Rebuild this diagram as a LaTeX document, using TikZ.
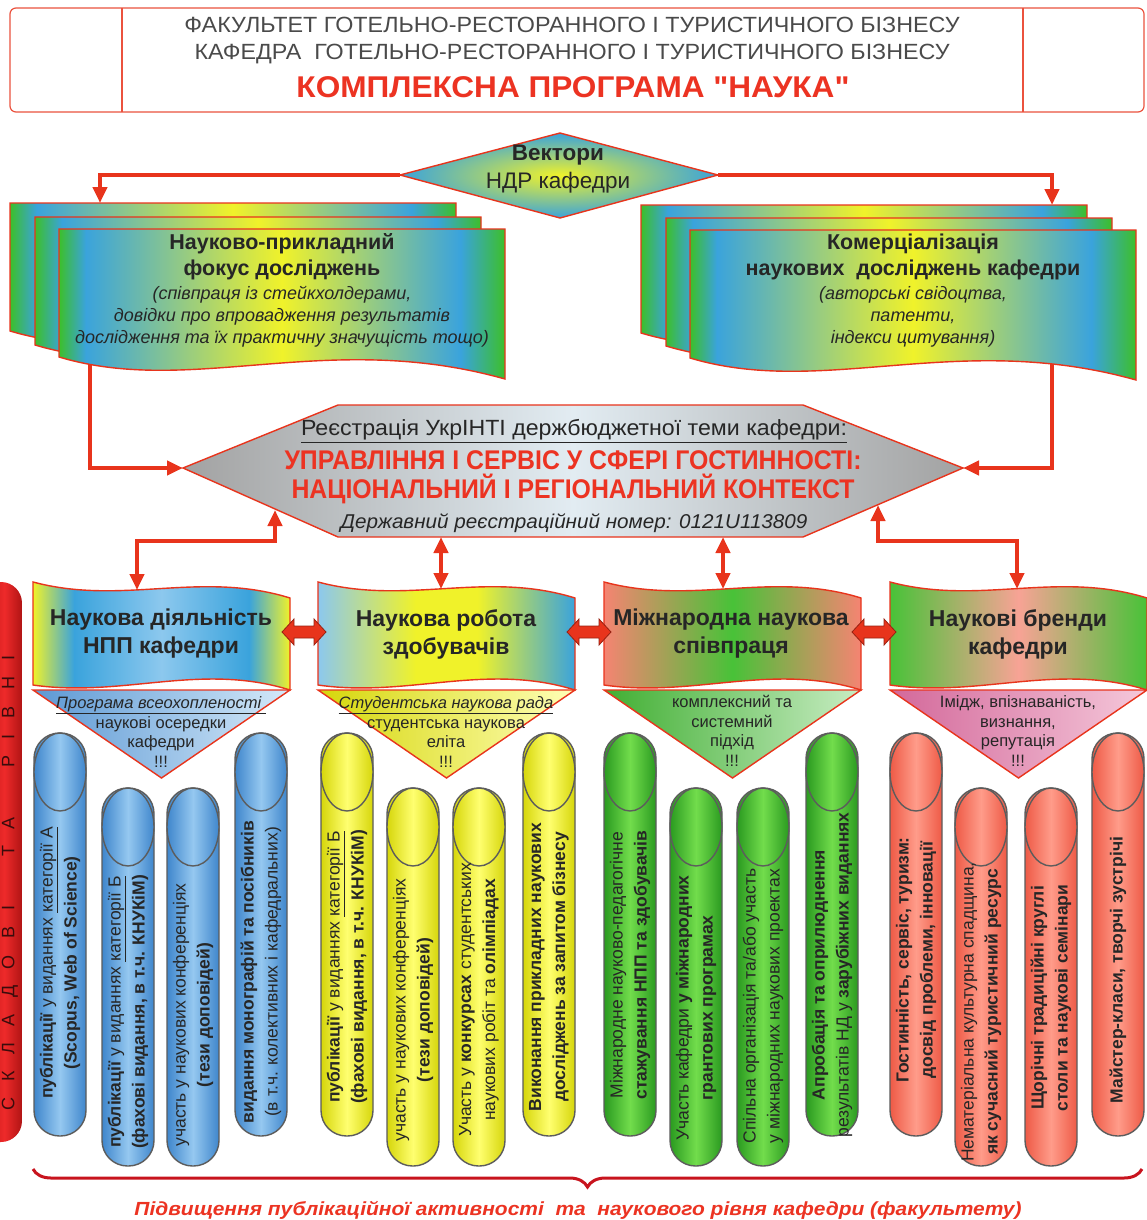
\documentclass[tikz,border=0pt]{standalone}
\usepackage{fontspec}
\setmainfont{Liberation Sans}
\usepackage{graphicx}
\usetikzlibrary{arrows.meta,decorations.pathreplacing}

\definecolor{ared}{HTML}{E8341C}
\definecolor{tred}{HTML}{EC3322}
\definecolor{bred}{HTML}{C8141E}
\definecolor{tgray}{HTML}{262626}
\definecolor{hgray}{HTML}{4A4A4A}
\definecolor{cgreen}{HTML}{3CBF2A}
\definecolor{cblue}{HTML}{3AA3DC}
\definecolor{cyellow}{HTML}{F0F22A}
\definecolor{lblue}{HTML}{8CC8EE}
\definecolor{csalmon}{HTML}{F58472}
\definecolor{cgreen2}{HTML}{48C238}
\definecolor{pout}{HTML}{5C5C5C}
\definecolor{hexc}{HTML}{E2ECF2}
\definecolor{hexg}{HTML}{A2A2A2}
\definecolor{pba}{HTML}{3F86CC}
\definecolor{pbb}{HTML}{95C8F0}
\definecolor{pya}{HTML}{D6D60A}
\definecolor{pyb}{HTML}{FFFF70}
\definecolor{pga}{HTML}{2A9A20}
\definecolor{pgb}{HTML}{72DD4C}
\definecolor{pra}{HTML}{EE5A46}
\definecolor{prb}{HTML}{FF9C8A}
\definecolor{bara}{HTML}{B01414}
\definecolor{barb}{HTML}{EE2A2A}
\definecolor{bartxt}{HTML}{3A0C0C}
\definecolor{pinka}{HTML}{D3689A}
\definecolor{pinkb}{HTML}{F5C8DA}

\pgfdeclarehorizontalshading{docsh}{100bp}{color(0bp)=(cgreen); color(25bp)=(cgreen); color(28bp)=(cblue); color(50bp)=(cyellow); color(70bp)=(cblue); color(75bp)=(cgreen); color(100bp)=(cgreen)}
\pgfdeclarehorizontalshading{bash}{100bp}{color(0bp)=(cyellow); color(25bp)=(cyellow); color(33bp)=(cblue); color(50bp)=(lblue); color(67bp)=(cblue); color(75bp)=(cyellow); color(100bp)=(cyellow)}
\pgfdeclarehorizontalshading{bbsh}{100bp}{color(0bp)=(lblue); color(25bp)=(lblue); color(44bp)=(cyellow); color(56bp)=(cyellow); color(75bp)=(cblue); color(100bp)=(cblue)}
\pgfdeclarehorizontalshading{bcsh}{100bp}{color(0bp)=(csalmon); color(25bp)=(csalmon); color(50bp)=(cgreen2); color(75bp)=(csalmon); color(100bp)=(csalmon)}
\pgfdeclarehorizontalshading{bdsh}{100bp}{color(0bp)=(cgreen2); color(25bp)=(cgreen2); color(50bp)=(csalmon!75!white); color(75bp)=(cgreen2); color(100bp)=(cgreen2)}
\pgfdeclarehorizontalshading{hexsh}{100bp}{color(0bp)=(hexg); color(25bp)=(hexg); color(50bp)=(hexc); color(75bp)=(hexg); color(100bp)=(hexg)}
\pgfdeclarehorizontalshading{pbsh}{100bp}{color(0bp)=(pba); color(25bp)=(pba); color(50bp)=(pbb); color(75bp)=(pba); color(100bp)=(pba)}
\pgfdeclarehorizontalshading{pysh}{100bp}{color(0bp)=(pya); color(25bp)=(pya); color(50bp)=(pyb); color(75bp)=(pya); color(100bp)=(pya)}
\pgfdeclarehorizontalshading{pgsh}{100bp}{color(0bp)=(pga); color(25bp)=(pga); color(50bp)=(pgb); color(75bp)=(pga); color(100bp)=(pga)}
\pgfdeclarehorizontalshading{prsh}{100bp}{color(0bp)=(pra); color(25bp)=(pra); color(50bp)=(prb); color(75bp)=(pra); color(100bp)=(pra)}
\pgfdeclarehorizontalshading{barsh}{100bp}{color(0bp)=(bara); color(25bp)=(bara); color(55bp)=(barb); color(75bp)=(bara); color(100bp)=(bara)}

\tikzset{
  shp/.style={draw=ared, line width=1.4pt},
  rarr/.style={draw=ared, line width=4pt, -{Triangle[width=14pt,length=16pt]}},
  rdarr/.style={draw=ared, line width=4pt, {Triangle[width=14pt,length=16pt]}-{Triangle[width=14pt,length=16pt]}},
  pil/.style={draw=pout, line width=1.4pt},
  ptext/.style={rotate=90, align=center, text=tgray, inner sep=0pt, font=\fontsize{17.5}{24}\selectfont},
  ttext/.style={align=center, text=tgray, inner sep=0pt, font=\fontsize{16.5}{19.7}\selectfont},
  btext/.style={align=center, text=tgray, inner sep=0pt, font=\bfseries\fontsize{23}{28}\selectfont},
  dtext/.style={align=center, text=tgray, inner sep=0pt, font=\bfseries\fontsize{21.5}{26}\selectfont},
  itext/.style={align=center, text=tgray, inner sep=0pt, font=\itshape\fontsize{18}{22}\selectfont},
}

\newcommand\drawpillar[7]{%
  \shadedraw[pil, shading=#4, rounded corners=25.5pt] (#1,#2) rectangle ({#1+52},#3);
  \shadedraw[pil, shading=#4] ({#1+26},{#2+39}) ellipse [x radius=26, y radius=39];
  \node[ptext] (#7) at ({#1+26},#5) {#6};
}
\newcommand\drawdoc[2]{%
  \shadedraw[shp, shading=docsh] (#1,#2) -- ({#1+446},#2) -- ({#1+446},{#2+150})
    .. controls ({#1+268},{#2+100}) and ({#1+134},{#2+168}) .. (#1,{#2+128}) -- cycle;
}
\newcommand\drawbanner[2]{%
  \shadedraw[shp, shading=#2] (#1,582) .. controls ({#1+90},606) and ({#1+167},570) .. ({#1+257},598)
    -- ({#1+257},690) .. controls ({#1+167},662) and ({#1+90},698) .. (#1,685) -- cycle;
}
\newcommand\drawtri[3]{%
  \shadedraw[shp, left color=#2, right color=#3] (#1,690) -- ({#1+257},690) -- ({#1+128.5},778) -- cycle;
}
\newcommand\drawdbl[2]{%
  \filldraw[fill=ared, draw=ared!65!black, line width=0.8pt]
    ({#1-22},#2) -- ({#1-10},{#2-13}) -- ({#1-10},{#2-6}) -- ({#1+10},{#2-6}) -- ({#1+10},{#2-13})
    -- ({#1+22},#2) -- ({#1+10},{#2+13}) -- ({#1+10},{#2+6}) -- ({#1-10},{#2+6}) -- ({#1-10},{#2+13}) -- cycle;
}

\begin{document}
\begin{tikzpicture}[x=1pt, y=-1pt]
\useasboundingbox (0,0) rectangle (1146,1220);
\fill[white] (0,0) rectangle (1146,1220);

% ---------------- header
\draw[draw=ared!85, line width=1.2pt, rounded corners=6pt] (10,8) rectangle (1144,112);
\draw[draw=ared!85, line width=1.2pt] (122,8) -- (122,112) (1023,8) -- (1023,112);
\node[text=hgray, font=\fontsize{22}{26}\selectfont, inner sep=0pt] (h1) at (572,25)
  {\resizebox{775pt}{\height}{ФАКУЛЬТЕТ ГОТЕЛЬНО-РЕСТОРАННОГО І ТУРИСТИЧНОГО БІЗНЕСУ}};
\node[text=hgray, font=\fontsize{22}{26}\selectfont, inner sep=0pt] (h2) at (572,54)
  {\resizebox{755pt}{\height}{КАФЕДРА\ \ ГОТЕЛЬНО-РЕСТОРАННОГО І ТУРИСТИЧНОГО БІЗНЕСУ}};
\node[text=tred, font=\bfseries\fontsize{30}{34}\selectfont, inner sep=0pt] (h3) at (573,87)
  {\resizebox{553pt}{\height}{КОМПЛЕКСНА ПРОГРАМА \textquotedbl НАУКА\textquotedbl}};

% ---------------- coordinates
\coordinate (vecL) at (400,175);
\coordinate (vecR) at (718,175);
\coordinate (vecT) at (560,133);
\coordinate (vecB) at (560,218);
\coordinate (docLin) at (100,203);
\coordinate (docRin) at (1052,205);
\coordinate (docLout) at (90,362);
\coordinate (docRout) at (1052,362);
\coordinate (hexL) at (183,468);
\coordinate (hexR) at (963,468);
\coordinate (hexTL) at (338,405);
\coordinate (hexTR) at (803,405);
\coordinate (hexBL) at (338,537);
\coordinate (hexBR) at (803,537);
\coordinate (hexB1) at (275,510);
\coordinate (hexB2) at (441,537);
\coordinate (hexB3) at (723,537);
\coordinate (hexB4) at (878,505);
\coordinate (ban1) at (137,590);
\coordinate (ban2) at (441,589);
\coordinate (ban3) at (723,589);
\coordinate (ban4) at (1017,589);

% ---------------- docs -> hexagon connectors (under docs)
\draw[rarr] (docLout) |- (hexL);
\draw[rarr] (docRout) |- (hexR);

% ---------------- document stacks
\drawdoc{10}{203}
\drawdoc{35}{217}
\drawdoc{59}{229}
\drawdoc{641}{205}
\drawdoc{666}{218}
\drawdoc{690}{230}

\node[dtext] (d1a) at (282,257) {Науково-прикладний\\фокус досліджень};
\node[itext] (d1b) at (282,317) {(співпраця із стейкхолдерами,\\довідки про впровадження результатів\\дослідження та їх практичну значущість тощо)};
\node[dtext] (d2a) at (913,257) {Комерціалізація\\наукових\ \ досліджень кафедри};
\node[itext] (d2b) at (913,317) {(авторські свідоцтва,\\патенти,\\індекси цитування)};

% ---------------- vectors
\shadedraw[shp, inner color=cyellow, outer color=cblue] (vecL) -- (vecT) -- (vecR) -- (vecB) -- cycle;
\node[text=tgray, font=\bfseries\fontsize{22.5}{24}\selectfont, inner sep=0pt] (v1) at (558,155) {Вектори};
\node[text=tgray, font=\fontsize{22.5}{24}\selectfont, inner sep=0pt] (v2) at (558,183) {НДР кафедри};
\draw[rarr] (vecL) -| (docLin);
\draw[rarr] (vecR) -| (docRin);

% ---------------- central hexagon
\shadedraw[shp, shading=hexsh] (hexL) -- (hexTL) -- (hexTR) -- (hexR) -- (hexBR) -- (hexBL) -- cycle;
\node[text=tgray, font=\fontsize{22}{26}\selectfont, inner sep=0pt] (hx1) at (574,431)
  {\resizebox{546pt}{\height}{\underline{Реєстрація УкрІНТІ держбюджетної теми кафедри:}}};
\node[text=tred, font=\bfseries\fontsize{27}{30}\selectfont, inner sep=0pt] (hx2) at (573,460)
  {\resizebox{577pt}{\height}{УПРАВЛІННЯ І СЕРВІС У СФЕРІ ГОСТИННОСТІ:}};
\node[text=tred, font=\bfseries\fontsize{27}{30}\selectfont, inner sep=0pt] (hx3) at (573,489)
  {\resizebox{563pt}{\height}{НАЦІОНАЛЬНИЙ І РЕГІОНАЛЬНИЙ КОНТЕКСТ}};
\node[text=tgray, font=\itshape\fontsize{20}{24}\selectfont, inner sep=0pt] (hx4) at (574,523)
  {\resizebox{467pt}{\height}{Державний реєстраційний номер: 0121U113809}};

% ---------------- pillars
\drawpillar{34}{733}{1136}{pbsh}{963}{\textbf{публікації} у виданнях \underline{категорії А}\\\textbf{(Scopus, Web of Science)}}{p11}
\drawpillar{102}{788}{1166}{pbsh}{1012}{\textbf{публікації} у виданнях \underline{категорії Б}\\\textbf{(фахові видання, в т.ч. КНУКіМ)}}{p12}
\drawpillar{167}{788}{1166}{pbsh}{1015}{участь у наукових конференціях\\\textbf{(тези доповідей)}}{p13}
\drawpillar{235}{733}{1136}{pbsh}{972}{\textbf{видання монографій та посібників}\\(в т.ч. колективних і кафедральних)}{p14}

\drawpillar{321}{733}{1136}{pysh}{967}{\textbf{публікації} у виданнях \underline{категорії Б}\\\textbf{(фахові видання, в т.ч. КНУКіМ)}}{p21}
\drawpillar{387}{788}{1166}{pysh}{1010}{участь у наукових конференціях\\\textbf{(тези доповідей)}}{p22}
\drawpillar{453}{788}{1166}{pysh}{1000}{Участь у \textbf{конкурсах} студентських\\наукових робіт та \textbf{олімпіадах}}{p23}
\drawpillar{523}{733}{1136}{pysh}{967}{\textbf{Виконання прикладних наукових}\\\textbf{досліджень за запитом бізнесу}}{p24}

\drawpillar{604}{733}{1136}{pgsh}{965}{Міжнародне науково-педагогічне\\\textbf{стажування НПП та здобувачів}}{p31}
\drawpillar{670}{788}{1166}{pgsh}{1008}{Участь кафедри \textbf{у міжнародних}\\\textbf{грантових програмах}}{p32}
\drawpillar{737}{788}{1166}{pgsh}{1006}{Спільна організація та/або участь\\у міжнародних наукових проектах}{p33}
\drawpillar{806}{733}{1136}{pgsh}{975}{\textbf{Апробація та оприлюднення}\\результатів НД у \textbf{зарубіжних виданнях}}{p34}

\drawpillar{890}{733}{1136}{prsh}{960}{\textbf{Гостинність, сервіс, туризм:}\\\textbf{досвід проблеми, інновації}}{p41}
\drawpillar{955}{788}{1166}{prsh}{1012}{Нематеріальна культурна спадщина,\\\textbf{як сучасний туристичний ресурс}}{p42}
\drawpillar{1025}{788}{1166}{prsh}{998}{\textbf{Щорічні традиційні круглі}\\\textbf{столи та наукові семінари}}{p43}
\drawpillar{1092}{733}{1136}{prsh}{970}{\textbf{Майстер-класи, творчі зустрічі}}{p44}

% ---------------- triangles
\drawtri{33}{pba!85}{pbb!40!white}
\drawtri{318}{pya}{pyb!50!white}
\drawtri{604}{cgreen2!90!black}{cgreen2!30!white}
\drawtri{890}{pinka}{pinkb}
\node[ttext] (t1) at (161,732) {\underline{\itshape Програма всеохопленості\ }\\наукові осередки\\кафедри\\!!!};
\node[ttext] (t2) at (446,732) {\underline{\itshape Студентська наукова рада}\\студентська наукова\\еліта\\!!!};
\node[ttext] (t3) at (732,731) {комплексний та\\системний\\підхід\\!!!};
\node[ttext] (t4) at (1018,731) {Імідж, впізнаваність,\\визнання,\\репутація\\!!!};

% ---------------- banners
\drawbanner{33}{bash}
\drawbanner{318}{bbsh}
\drawbanner{604}{bcsh}
\drawbanner{890}{bdsh}
\node[btext] (b1) at (161,634) {Наукова діяльність\\НПП кафедри};
\node[btext] (b2) at (446,634) {Наукова робота\\здобувачів};
\node[btext] (b3) at (731,634) {Міжнародна наукова\\співпраця};
\node[btext] (b4) at (1018,634) {Наукові бренди\\кафедри};
\drawdbl{304}{632}
\drawdbl{589}{632}
\drawdbl{874}{632}

% ---------------- hexagon <-> banners
\draw[rdarr] (hexB1) -- ++(0,31) -| (ban1);
\draw[rdarr] (hexB2) -- (ban2);
\draw[rdarr] (hexB3) -- (ban3);
\draw[rdarr] (hexB4) -- ++(0,36) -| (ban4);

% ---------------- left bar
\shadedraw[draw=none, shading=barsh, rounded corners=21pt] (-22,582) rectangle (22,1142);
\node[rotate=90, text=bartxt, font=\fontsize{18}{20}\selectfont, inner sep=0pt] (bar) at (10,883)
  {\makebox[455pt][s]{С\hfill К\hfill Л\hfill А\hfill Д\hfill О\hfill В\hfill І\hfill\hfill\hfill Т\hfill А\hfill\hfill\hfill Р\hfill І\hfill В\hfill Н\hfill І}};

% ---------------- brace and bottom text
\coordinate (brL) at (33,1169);
\coordinate (brR) at (1142,1169);
\draw[draw=bred, line width=3pt, decorate, decoration={brace, mirror, amplitude=18pt}] (brL) -- (brR);
\node[text=tred, font=\bfseries\itshape\fontsize{19}{22}\selectfont, inner sep=0pt] (foot) at (578,1210)
  {\resizebox{887pt}{\height}{Підвищення публікаційної активності\ \ та\ \ наукового рівня кафедри (факультету)}};
\end{tikzpicture}
\end{document}
